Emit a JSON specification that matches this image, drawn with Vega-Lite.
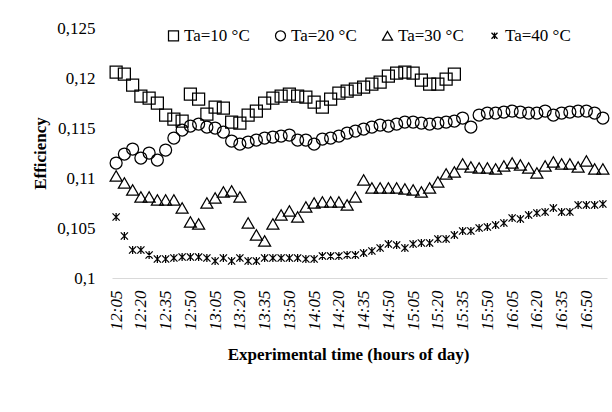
{
  "$schema": "https://vega.github.io/schema/vega-lite/v6.json",
  "width": 495,
  "height": 250,
  "autosize": {"type": "none"},
  "padding": {"left": 112, "top": 28, "right": 5, "bottom": 134},
  "background": "white",
  "config": {
    "view": {"stroke": null},
    "font": "Liberation Serif"
  },
  "data": {
    "values": [
      {"t": "12:05", "Ta=10 °C": 0.1206, "Ta=20 °C": 0.1115, "Ta=30 °C": 0.1102, "Ta=40 °C": 0.1061},
      {"t": "12:10", "Ta=10 °C": 0.1204, "Ta=20 °C": 0.1124, "Ta=30 °C": 0.1095, "Ta=40 °C": 0.1042},
      {"t": "12:15", "Ta=10 °C": 0.1193, "Ta=20 °C": 0.1129, "Ta=30 °C": 0.1088, "Ta=40 °C": 0.1028},
      {"t": "12:20", "Ta=10 °C": 0.1182, "Ta=20 °C": 0.1120, "Ta=30 °C": 0.1081, "Ta=40 °C": 0.1028},
      {"t": "12:25", "Ta=10 °C": 0.1180, "Ta=20 °C": 0.1125, "Ta=30 °C": 0.1081, "Ta=40 °C": 0.1023},
      {"t": "12:30", "Ta=10 °C": 0.1175, "Ta=20 °C": 0.1118, "Ta=30 °C": 0.1078, "Ta=40 °C": 0.1019},
      {"t": "12:35", "Ta=10 °C": 0.1163, "Ta=20 °C": 0.1128, "Ta=30 °C": 0.1078, "Ta=40 °C": 0.1019},
      {"t": "12:40", "Ta=10 °C": 0.1159, "Ta=20 °C": 0.1140, "Ta=30 °C": 0.1078, "Ta=40 °C": 0.1020},
      {"t": "12:45", "Ta=10 °C": 0.1157, "Ta=20 °C": 0.1148, "Ta=30 °C": 0.1070, "Ta=40 °C": 0.1021},
      {"t": "12:50", "Ta=10 °C": 0.1184, "Ta=20 °C": 0.1152, "Ta=30 °C": 0.1056, "Ta=40 °C": 0.1021},
      {"t": "12:55", "Ta=10 °C": 0.1179, "Ta=20 °C": 0.1154, "Ta=30 °C": 0.1054, "Ta=40 °C": 0.1021},
      {"t": "13:00", "Ta=10 °C": 0.1164, "Ta=20 °C": 0.1151, "Ta=30 °C": 0.1075, "Ta=40 °C": 0.1020},
      {"t": "13:05", "Ta=10 °C": 0.1171, "Ta=20 °C": 0.1150, "Ta=30 °C": 0.1080, "Ta=40 °C": 0.1017},
      {"t": "13:10", "Ta=10 °C": 0.1170, "Ta=20 °C": 0.1146, "Ta=30 °C": 0.1086, "Ta=40 °C": 0.1020},
      {"t": "13:15", "Ta=10 °C": 0.1156, "Ta=20 °C": 0.1137, "Ta=30 °C": 0.1087, "Ta=40 °C": 0.1017},
      {"t": "13:20", "Ta=10 °C": 0.1155, "Ta=20 °C": 0.1134, "Ta=30 °C": 0.1081, "Ta=40 °C": 0.1020},
      {"t": "13:25", "Ta=10 °C": 0.1163, "Ta=20 °C": 0.1136, "Ta=30 °C": 0.1055, "Ta=40 °C": 0.1017},
      {"t": "13:30", "Ta=10 °C": 0.1167, "Ta=20 °C": 0.1138, "Ta=30 °C": 0.1043, "Ta=40 °C": 0.1017},
      {"t": "13:35", "Ta=10 °C": 0.1175, "Ta=20 °C": 0.1140, "Ta=30 °C": 0.1037, "Ta=40 °C": 0.1020},
      {"t": "13:40", "Ta=10 °C": 0.1180, "Ta=20 °C": 0.1141, "Ta=30 °C": 0.1054, "Ta=40 °C": 0.1020},
      {"t": "13:45", "Ta=10 °C": 0.1182, "Ta=20 °C": 0.1142, "Ta=30 °C": 0.1063, "Ta=40 °C": 0.1020},
      {"t": "13:50", "Ta=10 °C": 0.1184, "Ta=20 °C": 0.1143, "Ta=30 °C": 0.1067, "Ta=40 °C": 0.1020},
      {"t": "13:55", "Ta=10 °C": 0.1182, "Ta=20 °C": 0.1138, "Ta=30 °C": 0.1061, "Ta=40 °C": 0.1020},
      {"t": "14:00", "Ta=10 °C": 0.1181, "Ta=20 °C": 0.1138, "Ta=30 °C": 0.1071, "Ta=40 °C": 0.1019},
      {"t": "14:05", "Ta=10 °C": 0.1176, "Ta=20 °C": 0.1134, "Ta=30 °C": 0.1075, "Ta=40 °C": 0.1019},
      {"t": "14:10", "Ta=10 °C": 0.1171, "Ta=20 °C": 0.1139, "Ta=30 °C": 0.1076, "Ta=40 °C": 0.1022},
      {"t": "14:15", "Ta=10 °C": 0.1179, "Ta=20 °C": 0.1140, "Ta=30 °C": 0.1076, "Ta=40 °C": 0.1022},
      {"t": "14:20", "Ta=10 °C": 0.1185, "Ta=20 °C": 0.1142, "Ta=30 °C": 0.1076, "Ta=40 °C": 0.1022},
      {"t": "14:25", "Ta=10 °C": 0.1187, "Ta=20 °C": 0.1145, "Ta=30 °C": 0.1073, "Ta=40 °C": 0.1023},
      {"t": "14:30", "Ta=10 °C": 0.1189, "Ta=20 °C": 0.1147, "Ta=30 °C": 0.1081, "Ta=40 °C": 0.1023},
      {"t": "14:35", "Ta=10 °C": 0.1191, "Ta=20 °C": 0.1149, "Ta=30 °C": 0.1098, "Ta=40 °C": 0.1025},
      {"t": "14:40", "Ta=10 °C": 0.1194, "Ta=20 °C": 0.1151, "Ta=30 °C": 0.1090, "Ta=40 °C": 0.1027},
      {"t": "14:45", "Ta=10 °C": 0.1196, "Ta=20 °C": 0.1153, "Ta=30 °C": 0.1090, "Ta=40 °C": 0.1030},
      {"t": "14:50", "Ta=10 °C": 0.1202, "Ta=20 °C": 0.1152, "Ta=30 °C": 0.1090, "Ta=40 °C": 0.1034},
      {"t": "14:55", "Ta=10 °C": 0.1205, "Ta=20 °C": 0.1154, "Ta=30 °C": 0.1090, "Ta=40 °C": 0.1033},
      {"t": "15:00", "Ta=10 °C": 0.1206, "Ta=20 °C": 0.1156, "Ta=30 °C": 0.1089, "Ta=40 °C": 0.1030},
      {"t": "15:05", "Ta=10 °C": 0.1205, "Ta=20 °C": 0.1156, "Ta=30 °C": 0.1088, "Ta=40 °C": 0.1034},
      {"t": "15:10", "Ta=10 °C": 0.1198, "Ta=20 °C": 0.1155, "Ta=30 °C": 0.1086, "Ta=40 °C": 0.1035},
      {"t": "15:15", "Ta=10 °C": 0.1194, "Ta=20 °C": 0.1154, "Ta=30 °C": 0.1090, "Ta=40 °C": 0.1035},
      {"t": "15:20", "Ta=10 °C": 0.1194, "Ta=20 °C": 0.1155, "Ta=30 °C": 0.1096, "Ta=40 °C": 0.1039},
      {"t": "15:25", "Ta=10 °C": 0.1199, "Ta=20 °C": 0.1156, "Ta=30 °C": 0.1104, "Ta=40 °C": 0.1039},
      {"t": "15:30", "Ta=10 °C": 0.1204, "Ta=20 °C": 0.1157, "Ta=30 °C": 0.1106, "Ta=40 °C": 0.1043},
      {"t": "15:35", "Ta=20 °C": 0.1160, "Ta=30 °C": 0.1114, "Ta=40 °C": 0.1047},
      {"t": "15:40", "Ta=20 °C": 0.1151, "Ta=30 °C": 0.1111, "Ta=40 °C": 0.1047},
      {"t": "15:45", "Ta=20 °C": 0.1163, "Ta=30 °C": 0.1110, "Ta=40 °C": 0.1050},
      {"t": "15:50", "Ta=20 °C": 0.1165, "Ta=30 °C": 0.1110, "Ta=40 °C": 0.1051},
      {"t": "15:55", "Ta=20 °C": 0.1165, "Ta=30 °C": 0.1109, "Ta=40 °C": 0.1053},
      {"t": "16:00", "Ta=20 °C": 0.1166, "Ta=30 °C": 0.1112, "Ta=40 °C": 0.1055},
      {"t": "16:05", "Ta=20 °C": 0.1167, "Ta=30 °C": 0.1115, "Ta=40 °C": 0.1060},
      {"t": "16:10", "Ta=20 °C": 0.1166, "Ta=30 °C": 0.1113, "Ta=40 °C": 0.1059},
      {"t": "16:15", "Ta=20 °C": 0.1165, "Ta=30 °C": 0.1110, "Ta=40 °C": 0.1063},
      {"t": "16:20", "Ta=20 °C": 0.1165, "Ta=30 °C": 0.1105, "Ta=40 °C": 0.1065},
      {"t": "16:25", "Ta=20 °C": 0.1167, "Ta=30 °C": 0.1112, "Ta=40 °C": 0.1066},
      {"t": "16:30", "Ta=20 °C": 0.1163, "Ta=30 °C": 0.1116, "Ta=40 °C": 0.1070},
      {"t": "16:35", "Ta=20 °C": 0.1165, "Ta=30 °C": 0.1114, "Ta=40 °C": 0.1066},
      {"t": "16:40", "Ta=20 °C": 0.1166, "Ta=30 °C": 0.1114, "Ta=40 °C": 0.1066},
      {"t": "16:45", "Ta=20 °C": 0.1167, "Ta=30 °C": 0.1111, "Ta=40 °C": 0.1073},
      {"t": "16:50", "Ta=20 °C": 0.1167, "Ta=30 °C": 0.1117, "Ta=40 °C": 0.1073},
      {"t": "16:55", "Ta=20 °C": 0.1165, "Ta=30 °C": 0.1109, "Ta=40 °C": 0.1073},
      {"t": "17:00", "Ta=20 °C": 0.1160, "Ta=30 °C": 0.1109, "Ta=40 °C": 0.1074}
    ]
  },
  "transform": [
    {"fold": ["Ta=10 °C", "Ta=20 °C", "Ta=30 °C", "Ta=40 °C"], "as": ["series", "value"]},
    {"filter": "isValid(datum.value)"}
  ],
  "mark": {"type": "point", "filled": false, "strokeWidth": 1.25, "opacity": 1, "size": 144},
  "encoding": {
    "x": {
      "field": "t",
      "type": "ordinal",
      "sort": null,
      "scale": {"type": "point", "padding": 0.5},
      "axis": {
        "values": ["12:05", "12:20", "12:35", "12:50", "13:05", "13:20", "13:35", "13:50", "14:05", "14:20", "14:35", "14:50", "15:05", "15:20", "15:35", "15:50", "16:05", "16:20", "16:35", "16:50"],
        "labelAngle": -90,
        "labelFont": "Liberation Serif",
        "labelFontSize": 17,
        "labelFontStyle": "italic",
        "labelColor": "#000000",
        "labelPadding": 12,
        "ticks": false,
        "grid": false,
        "domainColor": "#d9d9d9",
        "domainWidth": 1,
        "title": "Experimental time (hours of day)",
        "titleFont": "Liberation Serif",
        "titleFontSize": 17,
        "titleFontWeight": "bold",
        "titleColor": "#000000",
        "titleX": 236,
        "titleY": 76,
        "titleAlign": "center",
        "titleBaseline": "middle"
      }
    },
    "y": {
      "field": "value",
      "type": "quantitative",
      "scale": {"domain": [0.1, 0.125], "zero": false, "nice": false},
      "axis": {
        "values": [0.1, 0.105, 0.11, 0.115, 0.12, 0.125],
        "labelExpr": "replace(format(datum.value, '.3~f'), '.', ',')",
        "labelFont": "Liberation Serif",
        "labelFontSize": 17,
        "labelColor": "#000000",
        "labelPadding": 17,
        "ticks": false,
        "domain": false,
        "grid": false,
        "title": "Efficiency",
        "titleFont": "Liberation Serif",
        "titleFontSize": 17,
        "titleFontWeight": "bold",
        "titleColor": "#000000",
        "titleX": -72,
        "titleY": 125,
        "titleAngle": -90,
        "titleAlign": "center",
        "titleBaseline": "middle"
      }
    },
    "shape": {
      "field": "series",
      "type": "nominal",
      "scale": {
        "domain": ["Ta=10 °C", "Ta=20 °C", "Ta=30 °C", "Ta=40 °C"],
        "range": ["square", "circle", "triangle-up", "M-0.6,-0.6L0.6,0.6M-0.6,0.6L0.6,-0.6M0,-0.65L0,0.65"]
      },
      "legend": {
        "title": null,
        "orient": "none",
        "direction": "horizontal",
        "legendX": 53,
        "legendY": -1,
        "padding": 0,
        "columnPadding": 22,
        "labelFont": "Liberation Serif",
        "labelFontSize": 17,
        "labelColor": "#000000",
        "labelOffset": 2,
        "symbolSize": 100,
        "symbolStrokeColor": "#000000",
        "symbolFillColor": "transparent",
        "symbolStrokeWidth": 1.25
      }
    },
    "color": {"value": "#000000"}
  }
}
